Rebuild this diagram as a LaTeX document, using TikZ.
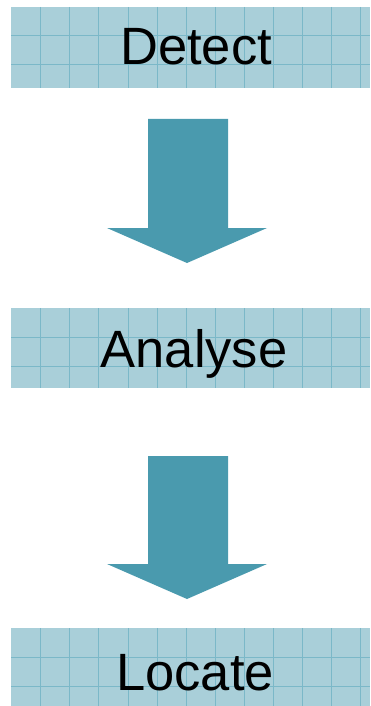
\documentclass[tikz,border=0pt]{standalone}
\usepackage{fontspec}
\setmainfont{Liberation Sans}
\definecolor{boxfill}{HTML}{A9CFD9}
\definecolor{gridline}{HTML}{7BB8C8}
\definecolor{arrowcol}{HTML}{4A9AAE}
\begin{document}
\begin{tikzpicture}[x=1pt,y=-1pt,
  stagebox/.style={fill=boxfill},
  gridln/.style={draw=gridline,line width=1pt},
  label/.style={font=\fontsize{52.5}{52.5}\selectfont,text=black,inner sep=0pt,anchor=base},
  blockarrow/.style={fill=arrowcol}]
\useasboundingbox (0,0) rectangle (370,706);
% boxes
\foreach \t/\b/\n in {7/88/d, 308/388/a, 628/706/l}{
  \fill[stagebox] (11,\t) rectangle (370,\b);
  \foreach \x in {40.7,69.8,...,370}{
    \draw[gridln] (\x,\t) -- (\x,\b);
  }
  \draw[gridln] (11,\t+29) -- (370,\t+29);
  \draw[gridln] (11,\t+58) -- (370,\t+58);
}
\node[label] (detect) at (196,65) {Detect};
\node[label] (analyse) at (194,367) {Analyse};
\node[label] (locate) at (195,690) {Locate};
% arrows
\fill[blockarrow] (148,119) -- (228,119) -- (228,228) -- (267,228) -- (187,263) -- (107,228) -- (148,228) -- cycle;
\fill[blockarrow] (148,456) -- (228,456) -- (228,564) -- (267,564) -- (187,599) -- (107,564) -- (148,564) -- cycle;
\end{tikzpicture}
\end{document}
